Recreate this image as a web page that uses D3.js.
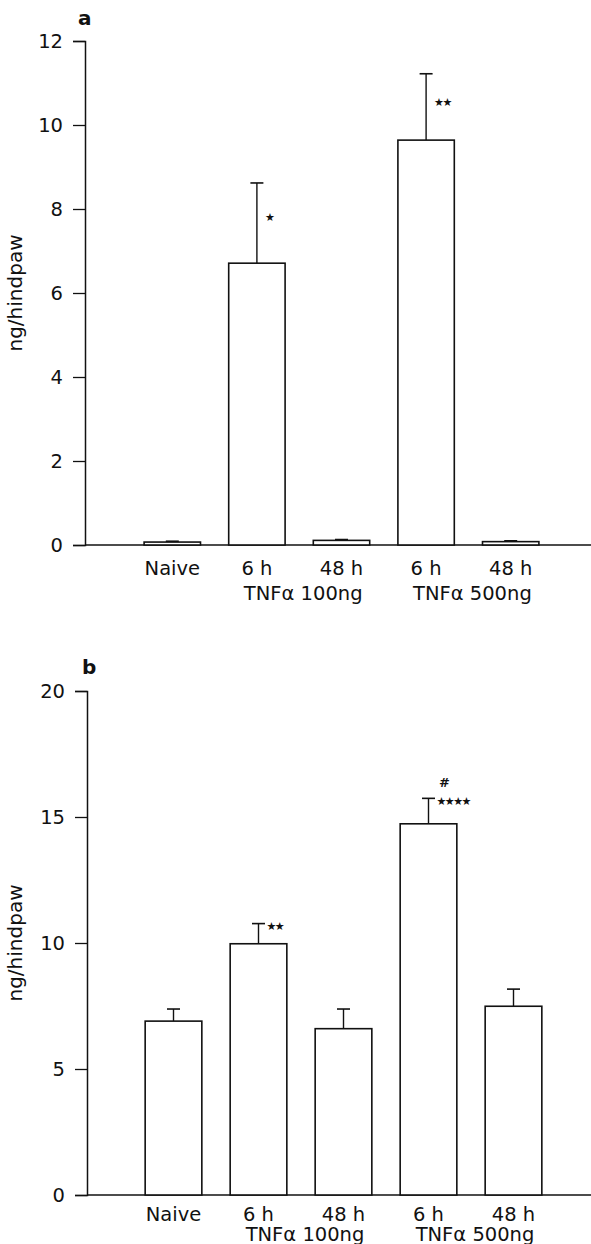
<!doctype html>
<html>
<head>
<meta charset="UTF-8">
<title>TNF hindpaw</title>
<script src="https://d3js.org/d3.v7.min.js"></script>
<style>
  body { margin: 0; background: white; }
  svg text { font-family: "DejaVu Sans", sans-serif; fill: #111; }
</style>
</head>
<body>
<svg id="chart" width="591" height="1244"></svg>
<script>
// groups along the x axis
var groups = ["naive", "tnf100_6h", "tnf100_48h", "tnf500_6h", "tnf500_48h"];
var timeLabels = ["Naive", "6 h", "48 h", "6 h", "48 h"];
var doseLabels = ["TNF\u03b1 100ng", "TNF\u03b1 500ng"];

// panel a
var meansA = [0.07, 6.71, 0.11, 9.64, 0.08];
var semA = [0.02, 1.91, 0.02, 1.58, 0.02];
var ticksA = [0, 2, 4, 6, 8, 10, 12];
var starsA = ["", "\u2605", "", "\u2605\u2605", ""];

// panel b
var meansB = [6.9, 9.97, 6.6, 14.73, 7.49];
var semB = [0.48, 0.8, 0.78, 1.01, 0.68];
var ticksB = [0, 5, 10, 15, 20];
var starsB = ["", "\u2605\u2605", "", "\u2605\u2605\u2605\u2605", ""];
var hashB = ["", "", "", "#", ""];

var svg = d3.select("#chart");

function drawPanel(p) {
  var g = svg.append("g");
  var y = d3.scaleLinear().domain([0, d3.max(p.ticks)]).range([p.bottom, p.top]);
  var x = d3.scaleBand().domain(groups).range(p.xRange).paddingInner(1 / 3).paddingOuter(1 / 6);

  // y axis
  var axis = g.append("g")
    .attr("transform", "translate(" + p.axisX + ",0)")
    .call(d3.axisLeft(y).tickValues(p.ticks).tickSize(12).tickPadding(10));
  axis.select(".domain").attr("stroke", "#111").attr("stroke-width", 1.5);
  axis.selectAll(".tick line").attr("stroke", "#111").attr("stroke-width", 1.3);
  axis.selectAll(".tick text")
    .style("font-family", "DejaVu Sans, sans-serif")
    .style("font-size", "19.5px")
    .attr("fill", "#111");

  // baseline
  g.append("line")
    .attr("x1", p.axisX).attr("x2", 591)
    .attr("y1", y(0)).attr("y2", y(0))
    .attr("stroke", "#111").attr("stroke-width", 1.5);

  // error bars (upper only)
  var err = g.selectAll(".err").data(groups).enter().append("g").attr("class", "err");
  err.append("line")
    .attr("x1", function (d) { return x(d) + x.bandwidth() / 2; })
    .attr("x2", function (d) { return x(d) + x.bandwidth() / 2; })
    .attr("y1", function (d, i) { return y(p.means[i]); })
    .attr("y2", function (d, i) { return y(p.means[i] + p.sem[i]); })
    .attr("stroke", "#111").attr("stroke-width", 1.4);
  err.append("line")
    .attr("x1", function (d) { return x(d) + x.bandwidth() / 2 - 6.5; })
    .attr("x2", function (d) { return x(d) + x.bandwidth() / 2 + 6.5; })
    .attr("y1", function (d, i) { return y(p.means[i] + p.sem[i]); })
    .attr("y2", function (d, i) { return y(p.means[i] + p.sem[i]); })
    .attr("stroke", "#111").attr("stroke-width", 1.6);

  // bars
  g.selectAll(".bar").data(groups).enter().append("rect")
    .attr("class", "bar")
    .attr("x", function (d) { return x(d); })
    .attr("width", x.bandwidth())
    .attr("y", function (d, i) { return y(p.means[i]); })
    .attr("height", function (d, i) { return y(0) - y(p.means[i]); })
    .attr("fill", "white")
    .attr("stroke", "#111")
    .attr("stroke-width", 1.6);

  // significance stars
  g.selectAll(".star").data(groups).enter().append("text")
    .attr("class", "star")
    .attr("x", function (d) { return x(d) + x.bandwidth() / 2 + 8; })
    .attr("y", function (d, i) { return y(p.means[i] + p.sem[i] * p.starFrac) + 4; })
    .style("font-size", "11px")
    .style("letter-spacing", "-1.5px")
    .text(function (d, i) { return p.stars[i]; });

  if (p.hash) {
    g.selectAll(".hash").data(groups).enter().append("text")
      .attr("class", "hash")
      .attr("x", function (d) { return x(d) + x.bandwidth() / 2 + 16; })
      .attr("y", function (d, i) { return y(p.means[i] + p.sem[i]) - 11; })
      .attr("text-anchor", "middle")
      .style("font-size", "13px")
      .style("font-weight", "bold")
      .text(function (d, i) { return p.hash[i]; });
  }

  // category labels
  g.selectAll(".tlab").data(groups).enter().append("text")
    .attr("x", function (d) { return x(d) + x.bandwidth() / 2; })
    .attr("y", p.labelY1)
    .attr("text-anchor", "middle")
    .style("font-size", "19.5px")
    .text(function (d, i) { return timeLabels[i]; });

  g.selectAll(".dlab").data(doseLabels).enter().append("text")
    .attr("x", function (d, i) {
      var a = groups[1 + i * 2], b = groups[2 + i * 2];
      return (x(a) + x(b)) / 2 + x.bandwidth() / 2 + 4;
    })
    .attr("y", p.labelY2)
    .attr("text-anchor", "middle")
    .style("font-size", "19.5px")
    .text(function (d) { return d; });

  // y label
  g.append("text")
    .attr("transform", "translate(22," + (p.top + p.bottom) / 2 + ") rotate(-90)")
    .attr("text-anchor", "middle")
    .style("font-size", "20px")
    .text("ng/hindpaw");

  // panel letter
  g.append("text")
    .attr("x", p.letterX).attr("y", p.letterY)
    .style("font-size", "20px")
    .style("font-weight", "bold")
    .text(p.letter);
}

drawPanel({
  means: meansA, sem: semA, ticks: ticksA, stars: starsA, starFrac: 0.57,
  top: 41, bottom: 545, axisX: 85, xRange: [130, 553],
  labelY1: 575, labelY2: 600, letter: "a", letterX: 78, letterY: 25
});

drawPanel({
  means: meansB, sem: semB, ticks: ticksB, stars: starsB, starFrac: 0.9, hash: hashB,
  top: 691, bottom: 1195, axisX: 87, xRange: [131, 556],
  labelY1: 1221, labelY2: 1241, letter: "b", letterX: 82, letterY: 674
});
</script>
</body>
</html>
